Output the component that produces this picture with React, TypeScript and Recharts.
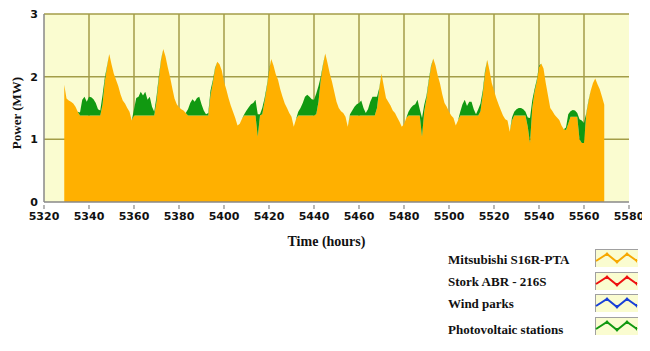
import React from 'react';
import { AreaChart, Area, XAxis, YAxis, CartesianGrid } from 'recharts';

const startHour = 5329;

const mitsubishi = [
  1.87, 1.65, 1.62, 1.60, 1.57, 1.52, 1.44, 1.38, 1.38, 1.38,
  1.38, 1.38, 1.38, 1.38, 1.38, 1.38, 1.38, 1.55, 1.92, 2.15,
  2.36, 2.20, 2.05, 1.95, 1.85, 1.72, 1.62, 1.57, 1.50, 1.44,
  1.30, 1.38, 1.38, 1.38, 1.38, 1.38, 1.38, 1.38, 1.38, 1.38,
  1.38, 1.60, 1.95, 2.25, 2.44, 2.32, 2.15, 2.00, 1.82, 1.65,
  1.56, 1.51, 1.48, 1.46, 1.42, 1.38, 1.38, 1.38, 1.38, 1.38,
  1.38, 1.38, 1.38, 1.38, 1.38, 1.70, 1.90, 2.12, 2.24, 2.20,
  2.10, 1.92, 1.80, 1.66, 1.54, 1.44, 1.34, 1.22, 1.25, 1.33,
  1.38, 1.38, 1.38, 1.38, 1.38, 1.38, 1.04, 1.38, 1.40, 1.60,
  1.82, 2.08, 2.28, 2.18, 2.04, 1.95, 1.80, 1.68, 1.57, 1.50,
  1.42, 1.36, 1.20, 1.32, 1.38, 1.38, 1.38, 1.38, 1.38, 1.38,
  1.38, 1.38, 1.40, 1.60, 1.95, 2.18, 2.37, 2.22, 2.05, 1.92,
  1.76, 1.60, 1.50, 1.45, 1.42, 1.36, 1.20, 1.38, 1.38, 1.38,
  1.38, 1.38, 1.38, 1.38, 1.38, 1.38, 1.38, 1.38, 1.38, 1.50,
  1.80, 2.05, 1.85, 1.66, 1.60, 1.54, 1.46, 1.42, 1.35, 1.28,
  1.20, 1.24, 1.34, 1.38, 1.38, 1.38, 1.38, 1.38, 1.38, 1.04,
  1.45, 1.65, 1.92, 2.15, 2.29, 2.18, 2.02, 1.89, 1.72, 1.58,
  1.52, 1.44, 1.38, 1.34, 1.22, 1.30, 1.38, 1.38, 1.38, 1.38,
  1.38, 1.38, 1.38, 1.38, 1.38, 1.45, 1.72, 2.05, 2.27, 2.10,
  1.90, 1.78, 1.66, 1.56, 1.47, 1.38, 1.32, 1.30, 1.12, 1.30,
  1.38, 1.38, 1.38, 1.38, 1.38, 1.38, 1.20, 0.94, 1.50, 1.75,
  1.92, 2.15, 2.21, 2.13, 1.90, 1.70, 1.50, 1.45, 1.39, 1.35,
  1.31, 1.22, 1.16, 1.15, 1.25, 1.36, 1.36, 1.36, 1.36, 1.00,
  0.94, 0.94, 1.40, 1.60, 1.78, 1.90, 1.97, 1.88, 1.80, 1.68,
  1.55,
];

const photovoltaic = [
  0, 0, 0, 0, 0, 0, 0, 0.05, 0.25, 0.30,
  0.22, 0.30, 0.29, 0.26, 0.20, 0.10, 0.08, 0.15, 0.06, 0.02,
  0, 0, 0, 0, 0, 0, 0, 0, 0, 0,
  0, 0.10, 0.28, 0.30, 0.38, 0.32, 0.38, 0.25, 0.30, 0.14,
  0.06, 0.08, 0.05, 0.02, 0, 0, 0, 0, 0, 0,
  0, 0, 0, 0, 0, 0.10, 0.20, 0.26, 0.22, 0.28,
  0.30, 0.18, 0.08, 0.02, 0.04, 0.08, 0.04, 0.02, 0, 0,
  0, 0, 0, 0, 0, 0, 0, 0, 0, 0,
  0.02, 0.08, 0.13, 0.18, 0.20, 0.25, 0.36, 0.02, 0.10, 0.05,
  0.03, 0.02, 0, 0, 0, 0, 0, 0, 0, 0,
  0, 0, 0, 0, 0.06, 0.12, 0.20, 0.30, 0.33, 0.30,
  0.26, 0.25, 0.33, 0.25, 0.05, 0.02, 0, 0, 0, 0,
  0, 0, 0, 0, 0, 0, 0, 0.02, 0.08, 0.14,
  0.18, 0.20, 0.24, 0.12, 0.04, 0.10, 0.22, 0.30, 0.30, 0.18,
  0.02, 0, 0, 0, 0, 0, 0, 0, 0, 0,
  0, 0, 0, 0.06, 0.12, 0.16, 0.18, 0.25, 0.10, 0.30,
  0.10, 0.05, 0.03, 0.02, 0, 0, 0, 0, 0, 0,
  0, 0, 0, 0, 0, 0, 0.06, 0.18, 0.25, 0.15,
  0.22, 0.22, 0.10, 0.02, 0.10, 0.12, 0.06, 0.04, 0, 0,
  0, 0, 0, 0, 0, 0, 0, 0, 0, 0.05,
  0.06, 0.10, 0.12, 0.12, 0.10, 0.06, 0.15, 0.40, 0.12, 0.05,
  0.03, 0.02, 0, 0, 0, 0, 0, 0, 0, 0,
  0, 0, 0, 0.04, 0.15, 0.09, 0.11, 0.10, 0.06, 0.32,
  0.36, 0.32, 0.02, 0.02, 0, 0, 0, 0, 0, 0,
  0,
];

const xTicks = [5320, 5340, 5360, 5380, 5400, 5420, 5440, 5460, 5480, 5500, 5520, 5540, 5560, 5580];
const gridHours = [5340, 5360, 5380, 5400, 5420, 5440, 5460, 5480, 5500, 5520, 5540, 5560];
const yTicks = [0, 1, 2, 3];
const gridPower = [1, 2, 3];

const legendItems = [
  { name: 'Mitsubishi S16R-PTA', color: '#f7a800' },
  { name: 'Stork ABR - 216S', color: '#ee1111' },
  { name: 'Wind parks', color: '#1840d8' },
  { name: 'Photovoltaic stations', color: '#119911' },
];

const data = mitsubishi.map((m, i) => ({
  hour: startHour + i,
  mitsubishi: m,
  photovoltaic: photovoltaic[i],
}));

const ORANGE = '#ffb000';
const GREEN = '#119911';
const BG = '#fafcd0';
const GRID = '#a39d48';
const AXIS = '#888888';

const XTick = (props: any) => {
  const { x, y, payload } = props;
  return (
    <g>
      <line x1={x} x2={x} y1={y + 3} y2={y + 7} stroke={AXIS} strokeWidth={1.2} />
      <text x={x} y={y + 18} textAnchor="middle" fontFamily="DejaVu Sans" fontWeight="bold" fontSize={11} fill="#111">
        {payload.value}
      </text>
    </g>
  );
};

const YTick = (props: any) => {
  const { x, y, payload } = props;
  return (
    <text x={x - 6} y={y + 4} textAnchor="end" fontFamily="DejaVu Sans" fontWeight="bold" fontSize={11} fill="#111">
      {payload.value}
    </text>
  );
};

const XTitle = (props: any) => {
  const vb = props.viewBox || { x: 36, y: 194, width: 585, height: 149 };
  return (
    <text x={vb.x + vb.width / 2 - 10} y={vb.y + 44} textAnchor="middle" fontFamily="Liberation Serif" fontWeight="bold" fontSize={14} fill="#111">
      Time (hours)
    </text>
  );
};

const YTitle = (props: any) => {
  const vb = props.viewBox || { x: 0, y: 6, width: 36, height: 188 };
  const cx = vb.x + 13;
  const cy = vb.y + vb.height / 2 + 5;
  return (
    <text x={cx} y={cy} transform={`rotate(-90, ${cx}, ${cy})`} textAnchor="middle" fontFamily="Liberation Serif" fontWeight="bold" fontSize={13} fill="#111">
      Power (MW)
    </text>
  );
};

const LegendIcon = ({ color }: { color: string }) => (
  <svg width={43} height={18} style={{ display: 'block' }}>
    <rect x={0} y={0} width={43} height={18} fill={BG} />
    <line x1={0.5} y1={0} x2={0.5} y2={18} stroke="#a0a0a0" />
    <line x1={0} y1={0.5} x2={43} y2={0.5} stroke="#a0a0a0" />
    <polyline points="1,12 12,5 22,13 32,5 42,12" fill="none" stroke={color} strokeWidth={2} />
    <polygon points="9,7 12,3 15,7" fill={color} />
    <polygon points="19,11 22,15 25,11" fill={color} />
    <polygon points="29,7 32,3 35,7" fill={color} />
    <polygon points="39,10 42,14 42,10" fill={color} />
  </svg>
);

const legendTextTops = [244, 266, 288, 314];
const legendIconTops = [241, 264, 286, 309];

export default function App() {
  return (
    <div style={{ position: 'relative', width: 642, height: 343 }}>
      <AreaChart width={642} height={343} data={data} margin={{ top: 6, right: 21, bottom: 0, left: 0 }}>
        <CartesianGrid
          fill={BG}
          stroke={GRID}
          strokeWidth={1.5}
          horizontalValues={gridPower}
          verticalValues={gridHours}
        />
        <XAxis
          dataKey="hour"
          type="number"
          domain={[5320, 5580]}
          ticks={xTicks}
          interval={0}
          height={149}
          tickSize={0}
          tickMargin={0}
          tickLine={false}
          axisLine={{ stroke: AXIS, strokeWidth: 1.5 }}
          tick={<XTick />}
          label={<XTitle />}
        />
        <YAxis
          type="number"
          domain={[0, 3]}
          ticks={yTicks}
          interval={0}
          width={36}
          tickSize={0}
          tickMargin={0}
          tickLine={false}
          axisLine={{ stroke: AXIS, strokeWidth: 1.5 }}
          tick={<YTick />}
          label={<YTitle />}
        />
        <Area
          type="linear"
          dataKey="mitsubishi"
          stackId="power"
          stroke="none"
          fill={ORANGE}
          fillOpacity={1}
          isAnimationActive={false}
          activeDot={false}
        />
        <Area
          type="linear"
          dataKey="photovoltaic"
          stackId="power"
          stroke="none"
          fill={GREEN}
          fillOpacity={1}
          isAnimationActive={false}
          activeDot={false}
        />
      </AreaChart>
      {legendItems.map((item, i) => (
        <React.Fragment key={item.name}>
          <div
            style={{
              position: 'absolute',
              left: 440,
              top: legendTextTops[i],
              lineHeight: '16px',
              fontFamily: 'Liberation Serif',
              fontWeight: 'bold',
              fontSize: 13,
              color: '#111',
              whiteSpace: 'nowrap',
            }}
          >
            {item.name}
          </div>
          <div style={{ position: 'absolute', left: 587, top: legendIconTops[i] }}>
            <LegendIcon color={item.color} />
          </div>
        </React.Fragment>
      ))}
    </div>
  );
}
